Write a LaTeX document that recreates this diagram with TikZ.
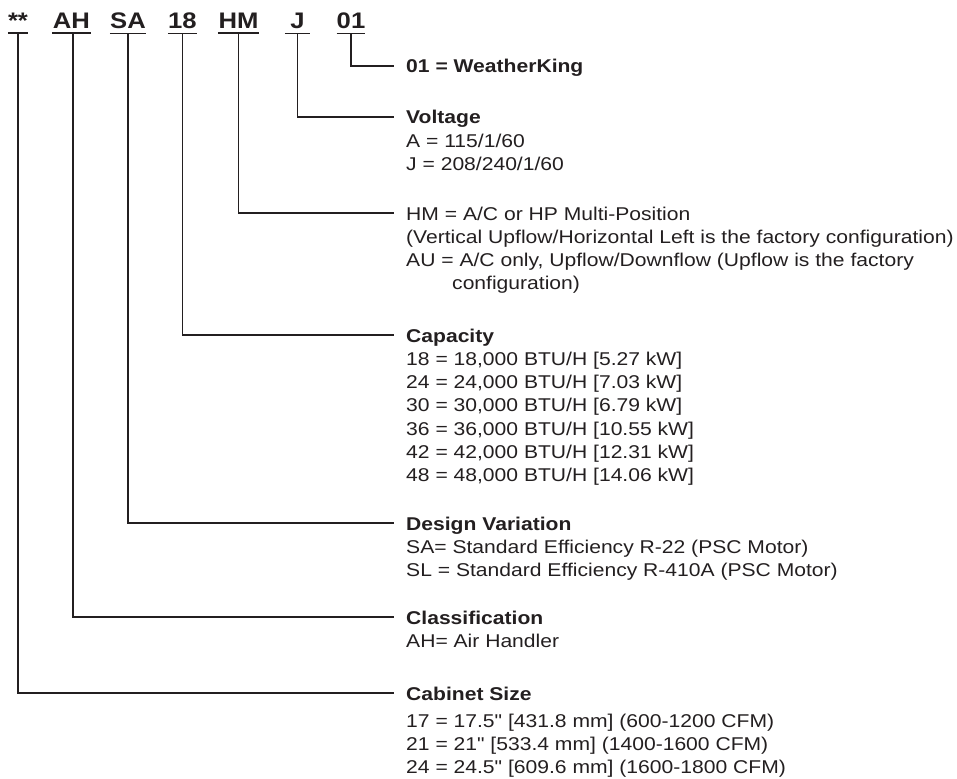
\documentclass[tikz,border=0pt]{standalone}
\usepackage{fontspec}
\setmainfont[FakeStretch=1.14, Ligatures=TeXOff]{Liberation Sans}
\definecolor{ink}{HTML}{231F20}
\tikzset{
  every node/.style={inner sep=0pt, text=ink},
  code/.style={font=\fontsize{22.5}{26}\selectfont\bfseries, anchor=base, inner xsep=0pt, inner ysep=4pt, minimum width=#1},
  blk/.style={anchor=base west, font=\fontsize{18.5}{23.3}\selectfont},
  conn/.style={draw=ink, line width=1.3pt},
  uline/.style={draw=ink, line width=1.5pt}
}
\begin{document}
\begin{tikzpicture}[x=1pt,y=-1pt]
\useasboundingbox (0,0) rectangle (957,778);
% code letters
\node[code=20] (cSt) at (18,29) {**};
\node[code=39] (cAH) at (71.5,29) {AH};
\node[code=36] (cSA) at (128,29) {SA};
\node[code=29] (c18) at (182.5,29) {18};
\node[code=41] (cHM) at (238.5,29) {HM};
\node[code=25] (cJ) at (297.5,29) {J};
\node[code=26] (c01) at (351,29) {01};
\foreach \n in {cSt,cAH,cSA,c18,cHM,cJ,c01}
  \draw[uline] (\n.south west) -- (\n.south east);
% description blocks (first baseline = node base)
\node[blk] (b01) at (406,73) {\vtop{\hbox{\bfseries 01 = WeatherKing}}};
\node[blk] (bV) at (406,124) {\vtop{\hbox{\bfseries Voltage}\hbox{A = 115/1/60}\hbox{J = 208/240/1/60}}};
\node[blk] (bHM) at (406,220) {\vtop{\hbox{HM = A/C or HP Multi-Position}\hbox{(Vertical Upflow/Horizontal Left is the factory configuration)}\hbox{AU = A/C only, Upflow/Downflow (Upflow is the factory}\hbox{\hspace*{46pt}configuration)}}};
\node[blk] (bCap) at (406,342) {\vtop{\hbox{\bfseries Capacity}\hbox{18 = 18,000 BTU/H [5.27 kW]}\hbox{24 = 24,000 BTU/H [7.03 kW]}\hbox{30 = 30,000 BTU/H [6.79 kW]}\hbox{36 = 36,000 BTU/H [10.55 kW]}\hbox{42 = 42,000 BTU/H [12.31 kW]}\hbox{48 = 48,000 BTU/H [14.06 kW]}}};
\node[blk] (bDes) at (406,530) {\vtop{\hbox{\bfseries Design Variation}\hbox{SA= Standard Efficiency R-22 (PSC Motor)}\hbox{SL = Standard Efficiency R-410A (PSC Motor)}}};
\node[blk] (bCl) at (406,624) {\vtop{\hbox{\bfseries Classification}\hbox{AH= Air Handler}}};
\node[blk] (bCab) at (406,700) {\vtop{\hbox{\bfseries Cabinet Size}\vskip3.7pt\hbox{17 = 17.5" [431.8 mm] (600-1200 CFM)}\hbox{21 = 21" [533.4 mm] (1400-1600 CFM)}\hbox{24 = 24.5" [609.6 mm] (1600-1800 CFM)}}};
% connectors
\draw[conn] (c01.south) |- ([xshift=-12pt,yshift=7pt]b01.base west);
\draw[conn] (cJ.south) |- ([xshift=-12pt,yshift=7pt]bV.base west);
\draw[conn] (cHM.south) |- ([xshift=-12pt,yshift=7pt]bHM.base west);
\draw[conn] (c18.south) |- ([xshift=-12pt,yshift=7pt]bCap.base west);
\draw[conn] (cSA.south) |- ([xshift=-12pt,yshift=7pt]bDes.base west);
\draw[conn] ([xshift=1.5pt]cAH.south) |- ([xshift=-12pt,yshift=7pt]bCl.base west);
\draw[conn] (cSt.south) |- ([xshift=-12pt,yshift=7pt]bCab.base west);
\end{tikzpicture}
\end{document}
